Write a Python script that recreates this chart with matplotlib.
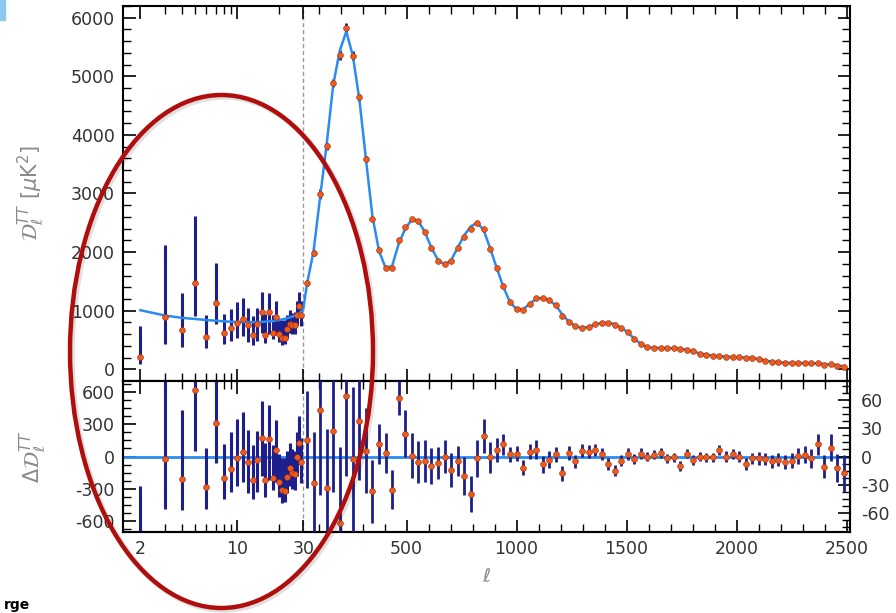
import numpy as np
import matplotlib
matplotlib.use('Agg')
import matplotlib.pyplot as plt
from matplotlib.patches import Ellipse, Rectangle
from matplotlib.ticker import MultipleLocator

# ---- data ----
# low multipoles, unbinned (ell = 2..29), model curve up to ell = 30
ell_model_low = np.arange(2, 31)
model_low = [1008, 918, 877, 858, 840, 828, 818, 812, 808, 806, 805, 805, 806, 808,
             812, 817, 823, 830, 840, 850, 860, 872, 885, 900, 915, 932, 955, 985, 1030]
ell_low = np.arange(2, 30)
resid_low = [-800, -24, -212, 612, -282, 309, -200, -115, -15, 45, -55, -221, -30, 173,
             -221, 158, -200, 58, -236, -312, -321, -191, -109, -152, -161, -3, 121, -55]
err_low_up = [530, 1230, 640, 1140, 365, 670, 320, 340, 360, 365, 300, 330, 270, 340,
              350, 320, 310, 280, 255, 300, 310, 240, 230, 220, 215, 230, 250, 230]
err_low_dn = [120, 460, 285, 560, 200, 365, 190, 210, 260, 280, 285, 170, 295, 355,
              150, 380, 115, 295, 135, 120, 100, 150, 160, 150, 145, 180, 190, 190]

# high multipoles, binned (delta ell ~ 30)
ell_high = np.linspace(47, 2488, 83)
model_high = [1458, 2017, 2940, 3841, 4855, 5436, 5766, 5350, 4604, 3584,
              2604, 2017, 1732, 1761, 2142, 2398, 2558, 2530, 2342, 2074,
              1863, 1790, 1857, 2074, 2285, 2438, 2501, 2370, 2057, 1721,
              1402, 1145, 1026, 1021, 1117, 1202, 1219, 1180, 1089, 935,
              809, 735, 706, 723, 764, 791, 791, 774, 706, 632,
              518, 432, 376, 364, 364, 364, 360, 350, 330, 308,
              268, 250, 234, 222, 215, 210, 205, 200, 193, 175,
              150, 130, 120, 112, 108, 108, 106, 104, 100, 90,
              80, 70, 50]
resid_high = [18, -28, 49, -33, 27, -70, 64, -3, 38, 6,
              -37, 13, 4, -35, 62, 24, 1, -6, -5, -10,
              -7, 0, -14, -5, -21, -40, -2, 22, -1, 7,
              13, 2.5, 3, -12, 5, 7, -8, -3.5, 2.5, -18,
              4, -5, 6, 5, 7, 2.5, -8, -15, -4.5, 2.5,
              -2.5, 3, 0, 2, 3.5, -2, -1, -10, 3, -3.5,
              0, -1, -1, 7, 0, 2.5, 0, -8, -2, -2,
              -2.5, -5, -3.5, -6, -4.5, 1, 2, -2, 13, -10.6,
              9.5, -12, -18]
err_high = [51, 54, 90, 62, 65, 80, 85, 77, 63, 45,
            33, 21, 21, 21, 18, 25, 24, 22, 22, 19,
            17, 17, 18, 16, 20, 19, 20, 18, 16, 13,
            11, 8, 8, 8, 8, 10, 9, 9, 8, 7.5,
            7.5, 7, 7, 7, 6.5, 6.5, 6.5, 6, 6, 6,
            5.5, 5.5, 5, 5, 5, 5, 5, 5, 5, 5,
            5, 5, 5, 5, 5.5, 5.5, 6, 6, 6, 6.5,
            6.5, 7, 7, 7.5, 8, 8.5, 9, 10, 11, 12.5,
            14, 15, 20]

xtick_major = [2, 10, 30, 500, 1000, 1500, 2000, 2500]
xtick_labels = ['2', '10', '30', '500', '1000', '1500', '2000', '2500']
xtick_minor = [3, 4, 5, 6, 7, 8, 9, 20] + [l for l in range(100, 2500, 100) if l % 500]

LINE = '#2a8cf0'
BAR = '#1c1f8c'
PT = '#ee5a1c'
EDGE = '#9a2a0a'
TXT = '#333333'

# log for ell<30, linear above (ratio of px per decade to px per ell)
K = 630.0


def fwd(x):
    x = np.asarray(x, dtype=float)
    return np.where(x < 30, K * np.log10(np.clip(x, 1e-6, 30) / 30), x - 30)


def inv(u):
    u = np.asarray(u, dtype=float)
    return np.where(u < 0, 30 * 10 ** (np.clip(u, -1e4, 0) / K), u + 30)


plt.rcParams['axes.unicode_minus'] = False
plt.rcParams['font.family'] = 'DejaVu Sans'

fig = plt.figure(figsize=(8.96, 6.13), dpi=100)
ax1 = fig.add_axes([0.1373, 0.3785, 0.8114, 0.6117])
ax2 = fig.add_axes([0.1373, 0.1321, 0.8114, 0.2464], sharex=ax1)
ax3 = ax2.twinx()

ax1.set_xscale('function', functions=(fwd, inv))
ax1.set_xlim(1.5, 2516)

model_low = np.asarray(model_low, float)
data_low = model_low[:-1] + np.asarray(resid_low, float)
data_high = np.asarray(model_high, float) + np.asarray(resid_high, float)
ell_th = np.concatenate([ell_model_low, ell_high])
dl_th = np.concatenate([model_low, model_high])

# top panel
ax1.axvline(30, color='#9a9a9a', ls=(0, (3, 2)), lw=1, zorder=1)
ax1.errorbar(ell_low, data_low, yerr=[err_low_dn, err_low_up], fmt='none',
             ecolor=BAR, elinewidth=2.2, zorder=2)
ax1.errorbar(ell_high, data_high, yerr=err_high, fmt='none',
             ecolor=BAR, elinewidth=2.0, zorder=2)
ax1.plot(ell_th, dl_th, color=LINE, lw=1.8, zorder=3)
ax1.plot(ell_low, data_low, 'o', ms=4.2, mfc=PT, mec=EDGE, mew=0.4, zorder=4)
ax1.plot(ell_high, data_high, 'o', ms=4.2, mfc=PT, mec=EDGE, mew=0.4, zorder=4)
ax1.set_ylim(-200, 6200)
ax1.set_yticks(range(0, 6001, 1000))
ax1.yaxis.set_minor_locator(MultipleLocator(200))

# bottom panel: left scale for ell<30, right scale for ell>=30
ax2.axvline(30, color='#9a9a9a', ls=(0, (3, 2)), lw=1, zorder=1)
ax2.axhline(0, color=LINE, lw=2, zorder=2)
ax2.errorbar(ell_low, resid_low, yerr=[err_low_dn, err_low_up], fmt='none',
             ecolor=BAR, elinewidth=2.2, zorder=3)
ax2.plot(ell_low, resid_low, 'o', ms=4.2, mfc=PT, mec=EDGE, mew=0.4, zorder=4)
ax2.set_ylim(-700, 700)
ax2.set_yticks([-600, -300, 0, 300, 600])
ax2.yaxis.set_minor_locator(MultipleLocator(75))

ax3.errorbar(ell_high, resid_high, yerr=err_high, fmt='none',
             ecolor=BAR, elinewidth=2.0, zorder=3)
ax3.plot(ell_high, resid_high, 'o', ms=4.2, mfc=PT, mec=EDGE, mew=0.4, zorder=4)
ax3.set_ylim(-80, 80)
ax3.set_yticks([-60, -30, 0, 30, 60])
ax3.yaxis.set_minor_locator(MultipleLocator(7.5))

ax2.set_xticks(xtick_major)
ax2.set_xticklabels(xtick_labels)
ax2.set_xticks(xtick_minor, minor=True)
ax1.tick_params(labelbottom=False)

for ax in (ax1, ax2, ax3):
    for s in ax.spines.values():
        s.set_linewidth(1.5)
    ax.tick_params(which='major', direction='in', length=9, width=1.2,
                   labelsize=12.5, labelcolor=TXT)
    ax.tick_params(which='minor', direction='in', length=5.5, width=1.0)
for ax in (ax1, ax2):
    ax.tick_params(axis='x', which='both', top=True, bottom=True, pad=6)
ax1.tick_params(axis='y', which='both', left=True, right=True, pad=6)
ax2.tick_params(axis='y', which='both', left=True, right=False, pad=6)
ax3.tick_params(axis='y', which='both', left=False, right=True, pad=8)

ax1.set_ylabel(r'$\mathcal{D}_{\ell}^{TT}\ [\mu\mathrm{K}^2]$', color='#8a8a8a', fontsize=15)
ax1.yaxis.set_label_coords(-0.104, 0.5)
ax2.set_ylabel(r'$\Delta\mathcal{D}_{\ell}^{TT}$', color='#8a8a8a', fontsize=15)
ax2.yaxis.set_label_coords(-0.102, 0.5)
ax2.set_xlabel(r'$\ell$', color='#8a8a8a', fontsize=14)
ax2.xaxis.set_label_coords(0.5, -0.23)

# red annotation ellipse drawn over the figure
fig.add_artist(Ellipse((223.5 / 896, 1 - 353.5 / 613), 303 / 896, 513 / 613,
                       transform=fig.transFigure, fill=False, ec='#000000',
                       lw=4, alpha=0.12, zorder=9))
fig.add_artist(Ellipse((221.5 / 896, 1 - 351.5 / 613), 303 / 896, 513 / 613,
                       transform=fig.transFigure, fill=False, ec='#b00d0d',
                       lw=3.2, zorder=10))

# slide leftovers at the edges
fig.add_artist(Rectangle((0, 1 - 20 / 613), 5 / 896, 20 / 613, transform=fig.transFigure,
                         color='#8cc8ef', zorder=10))
fig.text(0.004, 0.002, 'rge', ha='left', va='bottom', fontsize=10,
         fontweight='bold', color='black')

fig.savefig('out.png', dpi=100)
